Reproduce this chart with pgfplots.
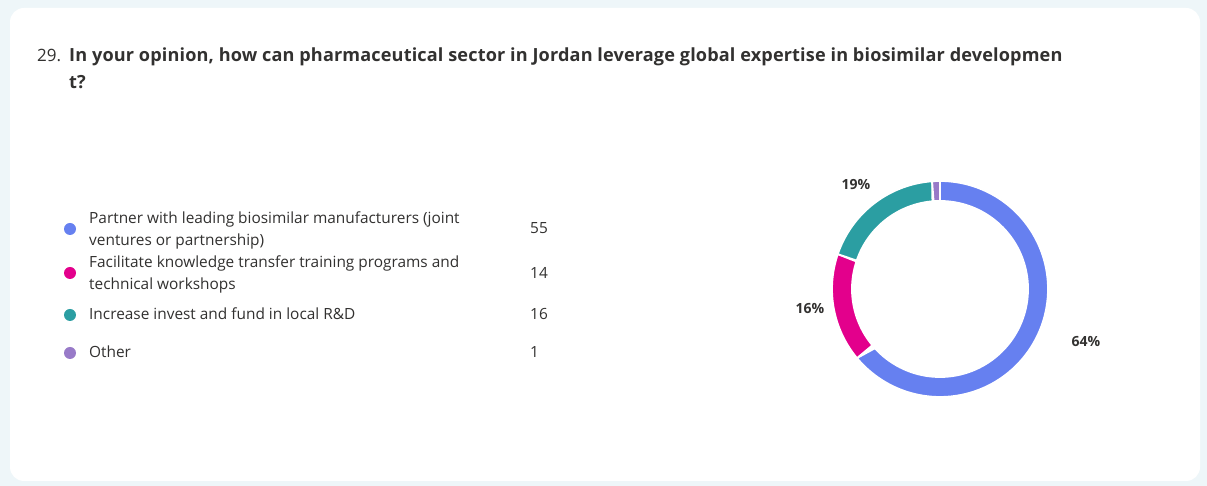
\documentclass[border=0pt]{standalone}
\usepackage{pgfplots}
\pgfplotsset{compat=1.18}
\usepackage{fontspec}
\setmainfont{Open Sans}
\definecolor{bgc}{RGB}{238,246,249}
\definecolor{txt}{RGB}{50,49,48}
\definecolor{cblue}{RGB}{102,128,240}
\definecolor{cpink}{RGB}{227,0,140}
\definecolor{cteal}{RGB}{43,158,162}
\definecolor{cpurple}{RGB}{152,122,200}
% survey counts
\def\vA{55}\def\vB{14}\def\vC{16}\def\vD{1}
\pgfmathsetmacro\tot{\vA+\vB+\vC+\vD}
\pgfmathsetmacro\aA{90}
\pgfmathsetmacro\bA{\aA-360*(\vA/\tot)}
\pgfmathsetmacro\bB{\bA-360*(\vB/\tot)}
\pgfmathsetmacro\bC{\bB-360*(\vC/\tot)}
\pgfmathsetmacro\bD{\bC-360*(\vD/\tot)}
\def\rin{0.815}
\newcommand\seg[3]{%
  \addplot[fill=#3, draw=white, line width=1.8bp, domain=0:2, samples=181, variable=\t]
  ({((\t<=1)+(\t>1)*\rin)*cos(#1+(#2-#1)*min(\t,2-\t))},
   {((\t<=1)+(\t>1)*\rin)*sin(#1+(#2-#1)*min(\t,2-\t))}) -- cycle;
}
\begin{document}
\begin{tikzpicture}[x=1bp,y=1bp]
\fill[bgc] (0,0) rectangle (1207,486);
\fill[white, rounded corners=14bp] (10,5) rectangle (1200,478);
\node[anchor=base west, inner sep=0, text=txt, font=\fontsize{17bp}{20bp}\selectfont] at (37,424) {29.};
\node[anchor=base west, inner sep=0, text=txt, font=\fontsize{18.1bp}{20bp}\selectfont\bfseries\addfontfeatures{LetterSpace=0.8}] at (69,424) {In your opinion, how can pharmaceutical sector in Jordan leverage global expertise in biosimilar developmen};
\node[anchor=base west, inner sep=0, text=txt, font=\fontsize{18.1bp}{20bp}\selectfont\bfseries] at (69,397) {t?};
% legend
\begin{scope}[every node/.style={anchor=base west, inner sep=0, text=txt, font=\fontsize{15.4bp}{18bp}\selectfont}]
\fill[cblue] (70,257) circle (6bp);
\node at (89,262) {Partner with leading biosimilar manufacturers (joint};
\node at (89,240) {ventures or partnership)};
\node at (530,252) {55};
\fill[cpink] (70,213) circle (6bp);
\node at (89,218) {Facilitate knowledge transfer training programs and};
\node at (89,196) {technical workshops};
\node at (530,207) {14};
\fill[cteal] (70,171) circle (6bp);
\node at (89,166) {Increase invest and fund in local R\&D};
\node at (530,166) {16};
\fill[cpurple] (70,133) circle (6bp);
\node at (89,128) {Other};
\node at (530,128) {1};
\end{scope}
\begin{axis}[at={(940bp,197bp)}, anchor=center, width=216bp, height=216bp, scale only axis,
  xmin=-1, xmax=1, ymin=-1, ymax=1, hide axis, clip=false]
\seg{\aA}{\bA}{cblue}
\seg{\bA}{\bB}{cpink}
\seg{\bB}{\bC}{cteal}
\seg{\bC}{\bD}{cpurple}
\end{axis}
\begin{scope}[every node/.style={anchor=center, inner sep=0, text=txt, font=\fontsize{14bp}{16bp}\selectfont\bfseries}]
\node at (856,301) {19\%};
\node at (810,177) {16\%};
\node at (1086,144) {64\%};
\end{scope}
\end{tikzpicture}
\end{document}
